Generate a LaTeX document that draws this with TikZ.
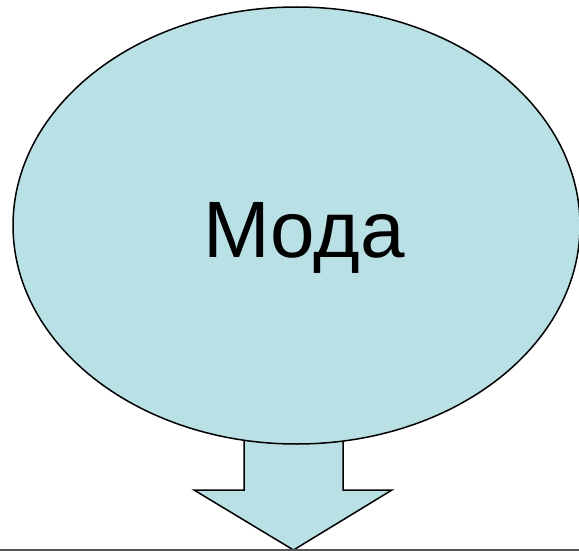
\documentclass[tikz,border=0pt]{standalone}
\usepackage{fontspec}
\setmainfont{Liberation Sans}
\usetikzlibrary{shapes.geometric}

\definecolor{ovalblue}{RGB}{185,224,228}
\definecolor{rulegray}{RGB}{85,85,85}

\tikzset{
    modaoval/.style = {ellipse, draw = black, fill = ovalblue, line width = 1.5pt,
                       minimum width = 567pt, minimum height = 437pt, inner sep = 0pt},
    modatext/.style = {font = \fontsize{80}{86}\selectfont, anchor = base, inner sep = 0pt}
}

\begin{document}
\begin{tikzpicture}[x = 1pt, y = -1pt]
            \useasboundingbox (0, 0) rectangle (579, 551);

            % block arrow below the oval
            \draw [line width = 1.5pt, fill = ovalblue, line join = miter]
                  (244, 420) -- (244, 490) -- (194, 490) -- (293.5, 550)
                  -- (392, 490) -- (343, 490) -- (343, 420) -- cycle;

            \node [modaoval] (oval) at (296.5, 225.5) {};
            \node [modatext] (moda) at (304, 257) {Мода};

            % rule at the bottom
            \draw [rulegray, line width = 1.8pt] (0, 550) -- (579, 550);
        \end{tikzpicture}
\end{document}
